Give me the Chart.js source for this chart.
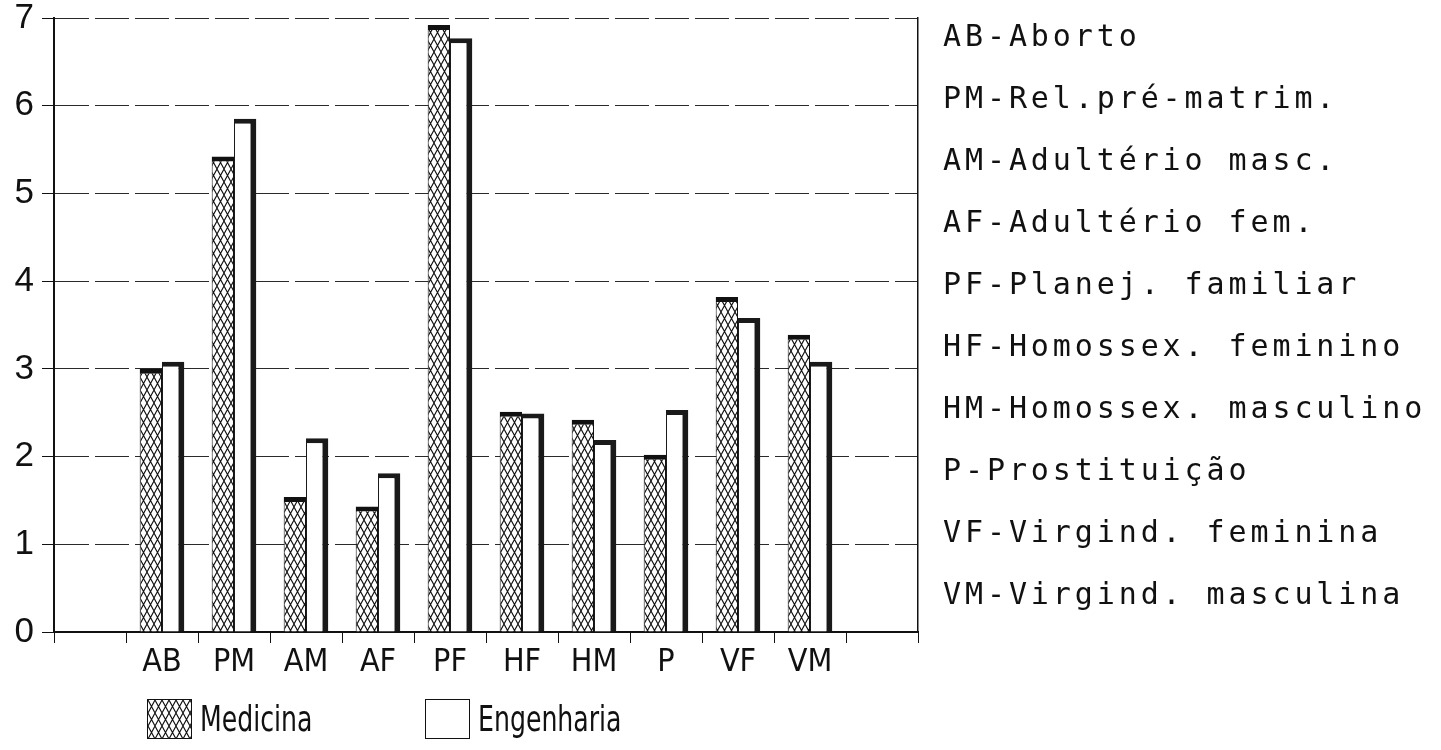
<!DOCTYPE html>
<html>
<head>
<meta charset="utf-8">
<script src="https://cdn.jsdelivr.net/npm/chart.js@4.4.1/dist/chart.umd.min.js"></script>
<style>
  html, body { margin: 0; padding: 0; background: #fff; }
  #wrap { position: relative; width: 1441px; height: 750px; overflow: hidden; }
  #c { position: absolute; left: 0; top: 0; }
  #glossary { position: absolute; left: 943px; top: 5px; font-family: "DejaVu Sans Mono", monospace; font-size: 30px; letter-spacing: 3.9px; line-height: 62px; color: #111; white-space: pre; }
  #legend { position: absolute; top: 698px; left: 0; height: 42px; font-family: "Liberation Sans Narrow", "DejaVu Sans Condensed", "Liberation Sans", sans-serif; font-size: 35px; color: #111; }
  .item { position: absolute; top: 0; display: flex; align-items: center; height: 42px; }
  .sw { width: 45px; height: 40px; box-sizing: border-box; border: 1px solid #111; margin-right: 8px; }
  .tx { display: inline-block; transform: scaleX(0.8); transform-origin: left center; white-space: nowrap; }
</style>
</head>
<body>
<div id="wrap">
  <canvas id="c" width="1441" height="750"></canvas>
  <div id="glossary"></div>
  <div id="legend"></div>
</div>
<script>
// ---- data ----
const categories = ['', 'AB', 'PM', 'AM', 'AF', 'PF', 'HF', 'HM', 'P', 'VF', 'VM', ''];
const medicina   = [null, 3.00, 5.42, 1.54, 1.43, 6.92, 2.51, 2.42, 2.02, 3.82, 3.39, null];
const engenharia = [null, 3.08, 5.85, 2.21, 1.81, 6.77, 2.49, 2.19, 2.53, 3.58, 3.08, null];
const seriesNames = ['Medicina', 'Engenharia'];
const yTicks = [0, 1, 2, 3, 4, 5, 6, 7];
const glossary = [
  'AB-Aborto',
  'PM-Rel.pré-matrim.',
  'AM-Adultério masc.',
  'AF-Adultério fem.',
  'PF-Planej. familiar',
  'HF-Homossex. feminino',
  'HM-Homossex. masculino',
  'P-Prostituição',
  'VF-Virgind. feminina',
  'VM-Virgind. masculina'
];

// ---- crosshatch pattern ----
function makeHatch() {
  const w = 7, h = 13;
  const pc = document.createElement('canvas');
  pc.width = w; pc.height = h;
  const g = pc.getContext('2d');
  g.fillStyle = '#fff'; g.fillRect(0, 0, w, h);
  g.strokeStyle = '#111'; g.lineWidth = 1.1;
  g.beginPath();
  g.moveTo(0, 0); g.lineTo(w, h);
  g.moveTo(w, 0); g.lineTo(0, h);
  g.stroke();
  return pc;
}
const hatchCanvas = makeHatch();
const ctx = document.getElementById('c').getContext('2d');
const hatch = ctx.createPattern(hatchCanvas, 'repeat');

const fontAxis = { family: '"Liberation Sans Narrow", "DejaVu Sans Condensed", "Liberation Sans", sans-serif', size: 32 };

new Chart(ctx, {
  type: 'bar',
  data: {
    labels: categories,
    datasets: [
      { label: seriesNames[0], data: medicina, backgroundColor: hatch, borderColor: '#111',
        borderWidth: { top: 5, left: 1, right: 1, bottom: 0 }, borderSkipped: 'start' },
      { label: seriesNames[1], data: engenharia, backgroundColor: '#fff', borderColor: '#1a1a1a',
        borderWidth: { top: 5, left: 1, right: 6, bottom: 0 }, borderSkipped: 'start' }
    ]
  },
  options: {
    responsive: false,
    animation: false,
    events: [],
    layout: { padding: { top: 18, right: 523, left: 0, bottom: 0 } },
    datasets: { bar: { categoryPercentage: 0.62, barPercentage: 1.0 } },
    plugins: { legend: { display: false }, tooltip: { enabled: false } },
    scales: {
      x: {
        offset: true,
        grid: { offset: true, drawOnChartArea: false, drawTicks: true, tickLength: 11, color: '#111', tickColor: '#111' },
        border: { display: true, color: '#111', width: 2 },
        ticks: { color: '#111', font: fontAxis, padding: 0, maxRotation: 0, autoSkip: false },
        afterFit: s => { s.height = 118; s.paddingLeft = 0; s.paddingRight = 0; }
      },
      y: {
        min: yTicks[0], max: yTicks[yTicks.length - 1],
        afterBuildTicks: s => { s.ticks = yTicks.map(v => ({ value: v })); },
        grid: { color: '#2a2a2a', lineWidth: 1, tickLength: 12, tickColor: '#111', drawTicks: true },
        border: { display: true, color: '#111', width: 2, dash: [34, 6] },
        ticks: { color: '#111', font: { family: '"Liberation Sans", Arial, sans-serif', size: 35 }, padding: 8 },
        afterFit: s => { s.width = 54; s.paddingTop = 0; s.paddingBottom = 0; }
      },
      y2: {
        position: 'right', min: 0, max: 7,
        grid: { drawOnChartArea: false, drawTicks: false },
        border: { display: true, color: '#111', width: 1.5 },
        ticks: { display: false },
        afterFit: s => { s.width = 0; s.paddingTop = 0; s.paddingBottom = 0; }
      }
    }
  }
});

// ---- glossary text ----
document.getElementById('glossary').textContent = glossary.join('\n');

// ---- legend ----
const leg = document.getElementById('legend');
const legendPos = [147, 425];
seriesNames.forEach((name, i) => {
  const it = document.createElement('div');
  it.className = 'item';
  it.style.left = legendPos[i] + 'px';
  const sw = document.createElement('div');
  sw.className = 'sw';
  if (i === 0) sw.style.backgroundImage = 'url(' + hatchCanvas.toDataURL() + ')';
  else sw.style.background = '#fff';
  const tx = document.createElement('span');
  tx.className = 'tx';
  tx.textContent = name;
  it.appendChild(sw); it.appendChild(tx);
  leg.appendChild(it);
});
</script>
</body>
</html>
